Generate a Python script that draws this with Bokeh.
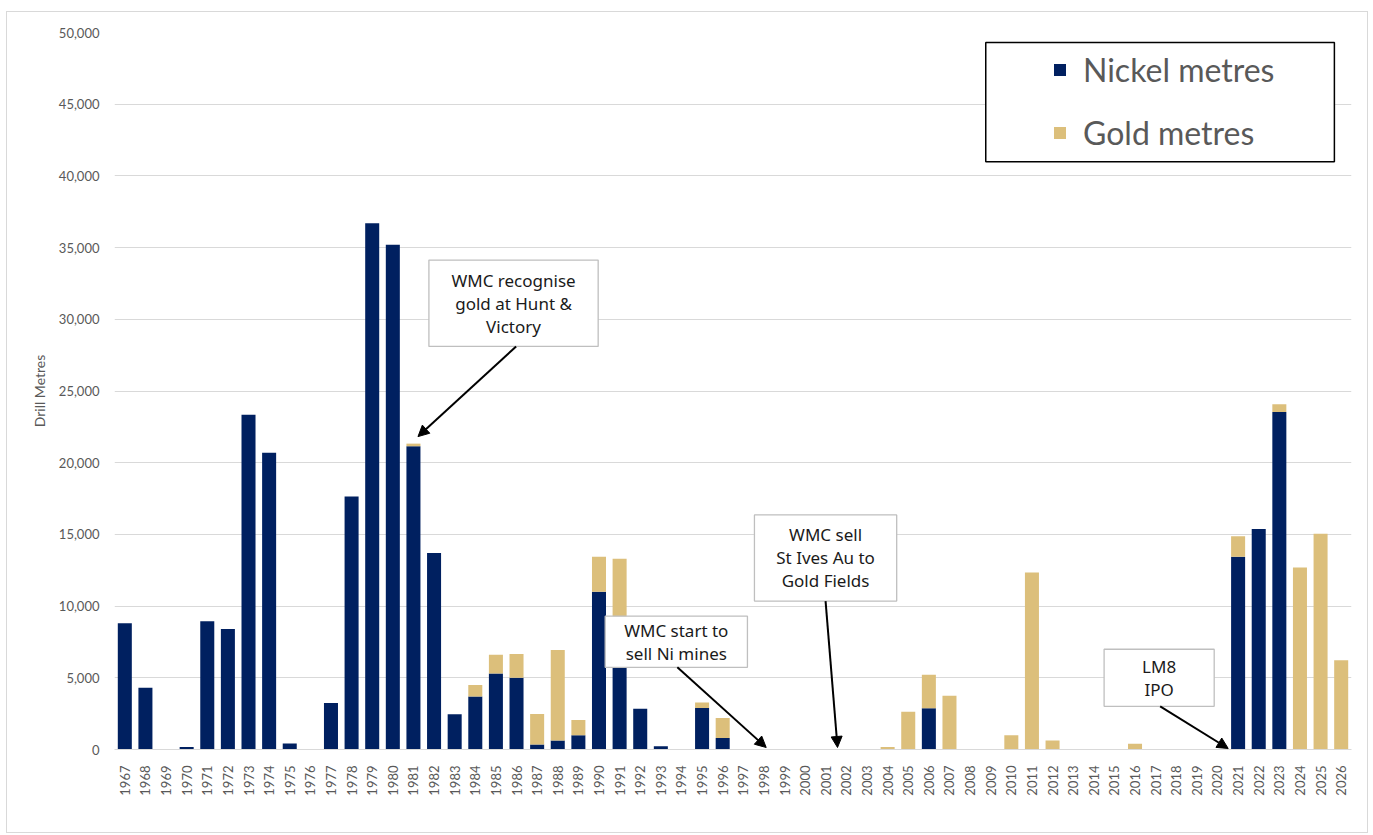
from bokeh.plotting import figure
from bokeh.models import (ColumnDataSource, Range1d, FactorRange, SingleIntervalTicker,
                          NumeralTickFormatter, Legend, LegendItem, BoxAnnotation, Label,
                          Arrow, NormalHead)
from bokeh.embed import file_html
from bokeh.resources import INLINE
import math

years = [str(y) for y in range(1967, 2027)]

nickel = [8800, 4300, 0, 180, 8950, 8400, 23350, 20700, 420, 0,
          3250, 17650, 36700, 35200, 21150, 13700, 2450, 3700, 5300, 5000,
          350, 630, 1000, 11000, 8300, 2850, 230, 0, 2900, 800,
          0, 0, 0, 0, 0, 0, 0, 0, 0, 2870,
          0, 0, 0, 0, 0, 0, 0, 0, 0, 0,
          0, 0, 0, 0, 13450, 15380, 23540, 0, 0, 0]

gold = [0, 0, 0, 0, 0, 0, 0, 0, 0, 0,
        0, 0, 0, 0, 180, 0, 0, 800, 1300, 1660,
        2120, 6310, 1050, 2450, 5000, 0, 0, 0, 380, 1390,
        0, 0, 0, 0, 0, 0, 0, 180, 2630, 2350,
        3750, 0, 0, 1000, 12350, 630, 0, 0, 0, 400,
        0, 0, 0, 0, 1420, 0, 540, 12700, 15050, 6220]

series_names = ["Nickel metres", "Gold metres"]
series_colors = ["#002060", "#DCBF7B"]

annotations = [
    # (text, box left, box right, box bottom, box top, arrow start x, arrow start y, arrow end x, arrow end y)
    ("WMC recognise\ngold at Hunt &\nVictory", 15.25, 23.46, 28110, 34130, 19.48, 28110, 14.72, 21820),
    ("WMC sell\nSt Ives Au to\nGold Fields", 31.04, 37.94, 10350, 16360, 34.49, 10350, 35.07, 140),
    ("WMC start to\nsell Ni mines", 23.80, 30.70, 5730, 9300, 27.30, 5730, 31.61, 140),
    ("LM8\nIPO", 48.00, 53.34, 3010, 6990, 50.72, 3010, 54.02, 70),
]

src = ColumnDataSource(dict(year=years, nickel=nickel, gold=gold))

p = figure(width=1362, height=822, x_range=FactorRange(*years, range_padding=0),
           y_range=Range1d(0, 50000), output_backend="svg", toolbar_location=None,
           min_border_left=107, min_border_right=18, min_border_top=20, min_border_bottom=85,
           margin=(11, 0, 0, 6), styles={"border": "1px solid #d9d9d9"})
p.outline_line_color = None
p.background_fill_color = "white"
p.border_fill_color = "white"

rs = p.vbar_stack(["nickel", "gold"], x="year", width=0.68, color=series_colors, source=src,
                  line_color=None)

# axes
p.yaxis.ticker = SingleIntervalTicker(interval=5000)
p.yaxis.formatter = NumeralTickFormatter(format="0,0")
p.yaxis.axis_line_color = None
p.yaxis.major_tick_line_color = None
p.yaxis.minor_tick_line_color = None
p.yaxis.major_label_text_font = "Lato"
p.yaxis.major_label_text_font_size = "13px"
p.yaxis.major_label_text_color = "#595959"
p.yaxis.major_label_standoff = 9
p.yaxis.axis_label = "Drill Metres"
p.yaxis.axis_label_text_font = "Lato"
p.yaxis.axis_label_text_font_style = "normal"
p.yaxis.axis_label_text_font_size = "14px"
p.yaxis.axis_label_text_color = "#595959"
p.yaxis.axis_label_standoff = 8

p.xaxis.axis_line_color = "#d9d9d9"
p.xaxis.major_tick_line_color = None
p.xaxis.minor_tick_line_color = None
p.xaxis.major_label_orientation = math.pi / 2
p.xaxis.major_label_text_font = "Lato"
p.xaxis.major_label_text_font_size = "13px"
p.xaxis.major_label_text_color = "#595959"
p.xaxis.major_label_standoff = 10

p.xgrid.grid_line_color = None
p.ygrid.grid_line_color = "#d9d9d9"
p.ygrid.grid_line_width = 1

# callouts
for text, l, r, b, t, xs, ys, xe, ye in annotations:
    p.add_layout(BoxAnnotation(left=l, right=r, bottom=b, top=t, fill_color="white", fill_alpha=1,
                               line_color="#bfbfbf", line_alpha=1, line_width=1.3))
    p.add_layout(Label(x=(l + r) / 2, y=(b + t) / 2, text=text, text_align="center",
                       text_baseline="middle", text_font="Noto Sans", text_font_size="17px",
                       text_color="#1a1a1a", text_line_height=1.0))
    p.add_layout(Arrow(x_start=xs, y_start=ys, x_end=xe, y_end=ye, line_color="black", line_width=2,
                       end=NormalHead(size=11, fill_color="black", line_color="black")))

# legend frame
p.add_layout(BoxAnnotation(left=42.26, right=59.17, bottom=40980, top=49300, fill_color="white",
                           fill_alpha=1, line_color="black", line_alpha=1, line_width=1.5))

legend = Legend(items=[LegendItem(label=series_names[0], renderers=[rs[0]]),
                       LegendItem(label=series_names[1], renderers=[rs[1]])],
                location=(938, 597), orientation="vertical")
legend.border_line_color = None
legend.background_fill_alpha = 0
legend.padding = 0
legend.margin = 0
legend.spacing = 24
legend.glyph_width = 15
legend.glyph_height = 15
legend.label_height = 36
legend.label_standoff = 16
legend.label_text_font = "Lato"
legend.label_text_font_size = "32px"
legend.label_text_color = "#595959"
p.add_layout(legend)

open("out.html", "w").write(file_html(p, INLINE))
